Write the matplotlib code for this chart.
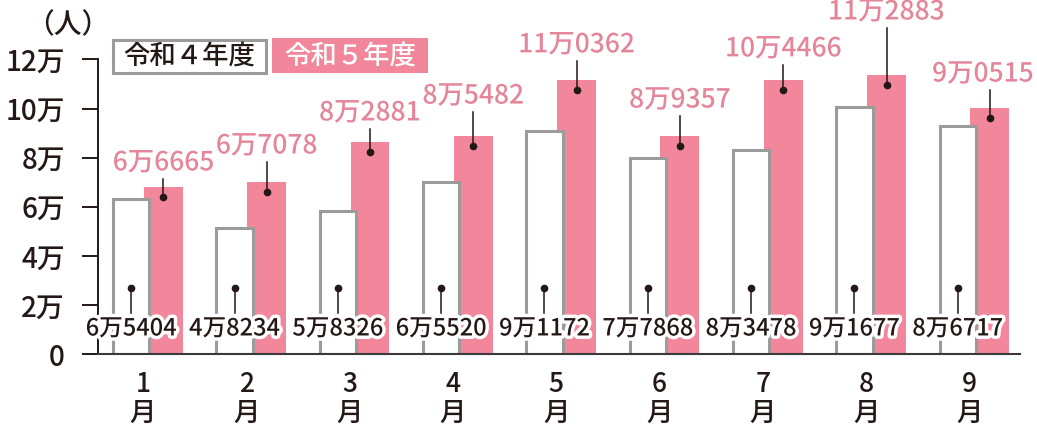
import matplotlib
matplotlib.use("Agg")
import matplotlib.pyplot as plt
import matplotlib.patheffects as pe
from matplotlib.patches import Rectangle
from matplotlib.transforms import blended_transform_factory
import numpy as np

plt.rcParams['font.family'] = ['Noto Sans CJK JP', 'DejaVu Sans']
plt.rcParams['font.weight'] = 'medium'

# ---- data ----
months = ["1\n月", "2\n月", "3\n月", "4\n月", "5\n月", "6\n月", "7\n月", "8\n月", "9\n月"]
# bar heights as drawn in the reference (persons)
r4_values = [63200, 51400, 58200, 69900, 90800, 79900, 83300, 100700, 93100]
r5_values = [68100, 70100, 86400, 88800, 111700, 88800, 111700, 113700, 100200]
# value labels as printed
r4_labels = ["6万5404", "4万8234", "5万8326", "6万5520", "9万1172", "7万7868", "8万3478", "9万1677", "8万6717"]
r5_labels = ["6万6665", "6万7078", "8万2881", "8万5482", "11万0362", "8万9357", "10万4466", "11万2883", "9万0515"]
yticks = [0, 20000, 40000, 60000, 80000, 100000, 120000]
ytick_labels = ["0", "2万", "4万", "6万", "8万", "10万", "12万"]
series_names = ["令和４年度", "令和５年度"]

# ---- layout ----
r5_label_rise_px = [24, 36, 29, 40, 35, 36, 31, 63, 34]
r5_label_dx_px = [0, 0, 0, 0, 0, 0, 0, 0, -7]

INK = "#231815"
PINK = "#F2879B"
PINK_TEXT = "#E5859A"
GREY = "#9B9B9B"

W, H = 1037, 425
fig = plt.figure(figsize=(W / 100, H / 100), dpi=100)
ax = fig.add_axes([97.5 / W, 1 - 354 / H, (1020 - 97.5) / W, (354 - 59.5) / H])
ax.set_xlim(0.56, 9.49)
ax.set_ylim(0, 120000)

x = np.arange(1, len(months) + 1)
off4, w4 = -0.113, 0.351
off5, w5 = 0.198, 0.377

ax.bar(x + off5, r5_values, width=w5, color=PINK, edgecolor="none", zorder=2)
ax.bar(x + off4, r4_values, width=w4, facecolor="white", edgecolor=GREY, linewidth=2.2, zorder=3)

trans = blended_transform_factory(ax.transData, ax.transAxes)
stroke = [pe.withStroke(linewidth=5, foreground="white")]

# R4 labels at the bottom with pin
for xi, lab in zip(x + off4, r4_labels):
    ax.plot([xi, xi], [0.139, 0.224], color=INK, lw=1.1, transform=trans, zorder=5, clip_on=False)
    ax.plot([xi], [0.224], "o", color=INK, ms=4.5, transform=trans, zorder=5, clip_on=False)
    ax.text(xi, 0.085, lab, transform=trans, ha="center", va="center", fontsize=17,
            color=INK, zorder=6, path_effects=stroke, clip_on=False)

# R5 labels above bars with pin
inv = ax.transData.inverted()
for xi, v, lab, rise, dx in zip(x + off5, r5_values, r5_labels, r5_label_rise_px, r5_label_dx_px):
    ax.annotate(lab, xy=(xi, v), xytext=(dx, rise), textcoords="offset pixels",
                ha="center", va="center", fontsize=19, color=PINK_TEXT, zorder=6,
                annotation_clip=False, path_effects=stroke)
    p0 = ax.transData.transform((xi, v))
    ya = inv.transform((p0[0], p0[1] - 10))[1]
    yb = inv.transform((p0[0], p0[1] + rise - 16))[1]
    ax.plot([xi, xi], [ya, yb], color=INK, lw=1.1, zorder=5, clip_on=False)
    ax.plot([xi], [ya], "o", color=INK, ms=4.5, zorder=5, clip_on=False)

ax.set_xticks(x)
ax.set_xticklabels(months, fontsize=19, color=INK, linespacing=1.1)
ax.tick_params(axis="x", length=0, pad=12)
ax.set_yticks(yticks)
ax.set_yticklabels(ytick_labels, fontsize=20, color=INK)
ax.tick_params(axis="y", length=11.5, width=1.4, color=INK, pad=12)

for s in ["top", "right"]:
    ax.spines[s].set_visible(False)
ax.spines["left"].set_color(INK)
ax.spines["left"].set_linewidth(1.4)
ax.spines["bottom"].set_color("#3a3a3a")
ax.spines["bottom"].set_linewidth(1.5)
ax.spines["bottom"].set_zorder(4)

# unit label
fig.text(68 / W, 1 - 25 / H, "（人）", ha="center", va="center", fontsize=20, color=INK)

# legend boxes
fig.add_artist(Rectangle((112.5 / W, 1 - 72.5 / H), 153 / W, 33 / H, transform=fig.transFigure,
                         facecolor="white", edgecolor=GREY, linewidth=2.2))
fig.text(189 / W, 1 - 56 / H, series_names[0], ha="center", va="center", fontsize=19, color=INK)
fig.add_artist(Rectangle((272 / W, 1 - 73.3 / H), 156 / W, 35 / H, transform=fig.transFigure,
                         facecolor=PINK, edgecolor="none"))
fig.text(350 / W, 1 - 56 / H, series_names[1], ha="center", va="center", fontsize=19, color="white")

fig.savefig("out.png", dpi=100)
